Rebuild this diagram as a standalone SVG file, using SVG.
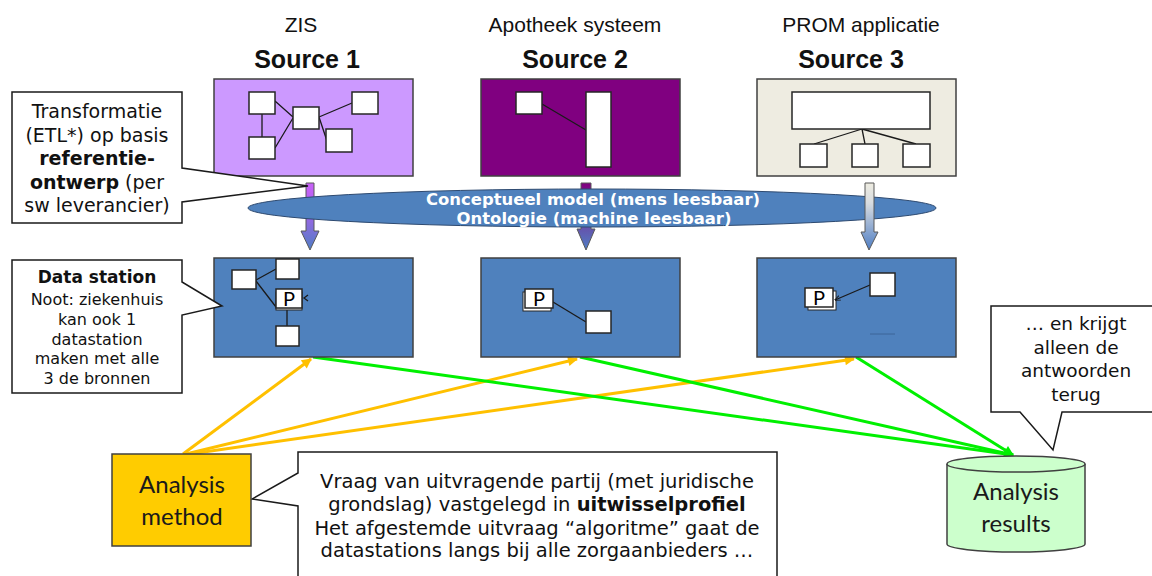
<svg xmlns="http://www.w3.org/2000/svg" width="1152" height="576" viewBox="0 0 1152 576">
  <defs>
    <style>
      .v { font-family: "DejaVu Sans", Verdana, sans-serif; }
      .vb { font-family: "DejaVu Sans", Verdana, sans-serif; font-weight: bold; }
      .ar { font-family: "Liberation Sans", Arial, sans-serif; }
      .cal { font-family: Lato, "Open Sans", sans-serif; }
      .box { stroke: #404040; stroke-width: 1.5; }
      .wb { fill: #ffffff; stroke: #262626; stroke-width: 1.5; }
      .ln { stroke: #1a1a1a; stroke-width: 1.3; fill: none; }
      .callout { fill: #ffffff; stroke: #1a1a1a; stroke-width: 1.5; }
      .yel { stroke: #FFC000; stroke-width: 3; fill: none; }
      .grn { stroke: #00F000; stroke-width: 3; fill: none; }
      .blk { stroke: #595959; stroke-width: 1; }
    </style>
    <marker id="ahY" viewBox="0 0 10 10" refX="9" refY="5" markerWidth="12" markerHeight="10" markerUnits="userSpaceOnUse" orient="auto">
      <path d="M0,0 L10,5 L0,10 Z" fill="#FFC000"/>
    </marker>
    <marker id="ahG" viewBox="0 0 10 10" refX="9" refY="5" markerWidth="12" markerHeight="10" markerUnits="userSpaceOnUse" orient="auto">
      <path d="M0,0 L10,5 L0,10 Z" fill="#00F000"/>
    </marker>
    <marker id="ahS" viewBox="0 0 10 10" refX="9" refY="5" markerWidth="6" markerHeight="6" markerUnits="userSpaceOnUse" orient="auto">
      <path d="M0,1 L10,5 L0,9" fill="none" stroke="#1a1a1a" stroke-width="1.5"/>
    </marker>
    <linearGradient id="g1" x1="0" y1="0" x2="0" y2="1">
      <stop offset="0" stop-color="#C862F8"/>
      <stop offset="0.35" stop-color="#B060EE"/>
      <stop offset="1" stop-color="#4F7EC4"/>
    </linearGradient>
    <linearGradient id="g2" x1="0" y1="0" x2="0" y2="1">
      <stop offset="0" stop-color="#800080"/>
      <stop offset="0.35" stop-color="#7a2a95"/>
      <stop offset="1" stop-color="#4F7EC4"/>
    </linearGradient>
    <linearGradient id="g3" x1="0" y1="0" x2="0" y2="1">
      <stop offset="0" stop-color="#EEECE1"/>
      <stop offset="0.3" stop-color="#D8DCE0"/>
      <stop offset="1" stop-color="#4F7EC4"/>
    </linearGradient>
  </defs>

  <rect width="1152" height="576" fill="#ffffff"/>

  <!-- column titles -->
  <g id="titles">
    <text class="ar" x="301" y="32" font-size="21" text-anchor="middle" fill="#111">ZIS</text>
    <text class="ar" x="575" y="32" font-size="21" text-anchor="middle" fill="#111">Apotheek systeem</text>
    <text class="ar" x="861" y="32" font-size="21" text-anchor="middle" fill="#111">PROM applicatie</text>
    <text class="ar" x="307" y="68" font-size="25" font-weight="bold" text-anchor="middle" fill="#111">Source 1</text>
    <text class="ar" x="575" y="68" font-size="25" font-weight="bold" text-anchor="middle" fill="#111">Source 2</text>
    <text class="ar" x="851" y="68" font-size="25" font-weight="bold" text-anchor="middle" fill="#111">Source 3</text>
  </g>

  <!-- source systems -->
  <g id="source1">
    <rect class="box" x="214" y="79" width="199" height="97" fill="#CC99FF"/>
    <path class="ln" d="M262,114 V137 M275,101 L293,117 M275,148 L293,118 M319,117 L352,103 M319,117 L327,141"/>
    <rect class="wb" x="249" y="92" width="26" height="22"/>
    <rect class="wb" x="293" y="107" width="26" height="22"/>
    <rect class="wb" x="352" y="92" width="26" height="22"/>
    <rect class="wb" x="249" y="137" width="26" height="22"/>
    <rect class="wb" x="326" y="129" width="26" height="23"/>
  </g>
  <g id="source2">
    <rect class="box" x="481" y="79" width="199" height="97" fill="#800080"/>
    <path class="ln" d="M542,104 L586,130"/>
    <rect class="wb" x="516" y="92" width="26" height="22"/>
    <rect class="wb" x="586" y="92" width="25" height="75"/>
  </g>
  <g id="source3">
    <rect class="box" x="757" y="79" width="199" height="97" fill="#EEECE1"/>
    <path class="ln" d="M862,129 L814,144 M862,129 L865,144 M862,129 L916,144"/>
    <rect class="wb" x="792" y="92" width="138" height="37"/>
    <rect class="wb" x="800" y="144" width="27" height="23"/>
    <rect class="wb" x="852" y="144" width="26" height="23"/>
    <rect class="wb" x="903" y="144" width="27" height="23"/>
  </g>

  <!-- transformation arrows and shared model -->
  <g id="transform-arrows-back">
    <path class="blk" d="M306,183 H314 V231 H319 L310,250 L301,231 H306 Z" fill="url(#g1)"/>
    <path class="blk" d="M581,183 H591 V229 H595 L586,250 L577,229 H581 Z" fill="url(#g2)"/>
  </g>
  <g id="model">
    <ellipse cx="592" cy="208" rx="344" ry="19" fill="#4F81BD" stroke="#2E4A70" stroke-width="1"/>
    <text class="vb" x="593" y="205" font-size="15" text-anchor="middle" fill="#ffffff" textLength="334" lengthAdjust="spacingAndGlyphs">Conceptueel model (mens leesbaar)</text>
    <text class="vb" x="594" y="224" font-size="15" text-anchor="middle" fill="#ffffff" textLength="275" lengthAdjust="spacingAndGlyphs">Ontologie (machine leesbaar)</text>
  </g>
  <g id="transform-arrow-front">
    <path class="blk" d="M865,183 H874 V232 H878 L869,250 L861,232 H865 Z" fill="url(#g3)"/>
  </g>

  <!-- connectors -->
  <g id="connectors">
    <line class="yel" x1="183" y1="454" x2="311" y2="359" marker-end="url(#ahY)"/>
    <line class="yel" x1="186" y1="454" x2="577" y2="359" marker-end="url(#ahY)"/>
    <line class="yel" x1="190" y1="454" x2="854" y2="359" marker-end="url(#ahY)"/>
    <line class="grn" x1="313" y1="357" x2="1013" y2="455" marker-end="url(#ahG)"/>
    <line class="grn" x1="580" y1="357" x2="1013" y2="455" marker-end="url(#ahG)"/>
    <line class="grn" x1="856" y1="357" x2="1013" y2="455" marker-end="url(#ahG)"/>
  </g>

  <!-- data stations -->
  <g id="datastation1">
    <rect class="box" x="214" y="258" width="199" height="99" fill="#4F81BD"/>
    <path class="ln" d="M256,280 L276,269 M256,281 L276,307 M287,308 V326 M308,295 L304,298 L308,301"/>
    <rect class="wb" x="232" y="270" width="24" height="19"/>
    <rect class="wb" x="276" y="259" width="23" height="20"/>
    <rect x="276" y="292" width="26" height="18" fill="#d9d9d9" stroke="#262626" stroke-width="1"/>
    <rect class="wb" x="276" y="289" width="26" height="19"/>
    <text class="cal" x="289" y="306" font-size="20" text-anchor="middle" fill="#000">P</text>
    <rect class="wb" x="276" y="326" width="23" height="20"/>
  </g>
  <g id="datastation2">
    <rect class="box" x="481" y="258" width="199" height="99" fill="#4F81BD"/>
    <path class="ln" d="M553,302 L586,322"/>
    <rect x="523" y="292" width="28" height="19" fill="#ffffff" stroke="#262626" stroke-width="1"/>
    <rect class="wb" x="525" y="289" width="28" height="19"/>
    <text class="cal" x="539" y="306" font-size="20" text-anchor="middle" fill="#000">P</text>
    <rect class="wb" x="586" y="311" width="25" height="22"/>
  </g>
  <g id="datastation3">
    <rect class="box" x="757" y="258" width="199" height="99" fill="#4F81BD"/>
    <line x1="870" y1="334" x2="895" y2="334" stroke="#3D6598" stroke-width="1"/>
    <rect x="808" y="291" width="28" height="19" fill="#ffffff" stroke="#262626" stroke-width="1"/>
    <rect class="wb" x="805" y="288" width="28" height="19"/>
    <text class="cal" x="819" y="305" font-size="20" text-anchor="middle" fill="#000">P</text>
    <line class="ln" x1="870" y1="285" x2="835" y2="300" marker-end="url(#ahS)"/>
    <rect class="wb" x="870" y="273" width="25" height="23"/>
  </g>

  <!-- callouts -->
  <g id="callout-transform">
    <path class="callout" d="M12,92 H182 V168 L308,186 L182,202 V223 H12 Z"/>
    <g class="v" font-size="19" text-anchor="middle" fill="#111">
      <text x="97" y="118">Transformatie</text>
      <text x="97" y="142">(ETL*) op basis</text>
      <text x="97" y="165" font-weight="bold">referentie-</text>
      <text x="97" y="189"><tspan font-weight="bold">ontwerp</tspan> (per</text>
      <text x="97" y="212">sw leverancier)</text>
    </g>
  </g>
  <g id="callout-datastation">
    <path class="callout" d="M12,260 H182 V282 L222,306 L182,315 V393 H12 Z"/>
    <g class="v" text-anchor="middle" fill="#111">
      <text x="97" y="283" font-size="17" font-weight="bold">Data station</text>
      <text x="97" y="305" font-size="16">Noot: ziekenhuis</text>
      <text x="97" y="325" font-size="16">kan ook 1</text>
      <text x="97" y="345" font-size="16">datastation</text>
      <text x="97" y="364" font-size="16">maken met alle</text>
      <text x="97" y="384" font-size="16">3 de bronnen</text>
    </g>
  </g>
  <g id="callout-results">
    <path class="callout" d="M991,306 H1160 V412 H1062 L1053,450 L1020,412 H991 Z"/>
    <g class="v" font-size="18.5" text-anchor="middle" fill="#111">
      <text x="1076" y="330">… en krijgt</text>
      <text x="1076" y="354">alleen de</text>
      <text x="1076" y="377">antwoorden</text>
      <text x="1076" y="401">terug</text>
    </g>
  </g>
  <g id="callout-query">
    <path class="callout" d="M298,452 H777 V584 H298 V506 L252,499 L298,473 Z"/>
    <g class="v" font-size="19.5" text-anchor="middle" fill="#111">
      <text x="537" y="488">Vraag van uitvragende partij (met juridische</text>
      <text x="537" y="511">grondslag) vastgelegd in <tspan font-weight="bold">uitwisselprofiel</tspan></text>
      <text x="537" y="535">Het afgestemde uitvraag “algoritme” gaat de</text>
      <text x="537" y="557">datastations langs bij alle zorgaanbieders …</text>
    </g>
  </g>

  <!-- analysis method -->
  <g id="analysis-method">
    <rect x="112" y="454" width="139" height="92" fill="#FFCC00" stroke="#404040" stroke-width="1.5"/>
    <text class="cal" x="182" y="493" font-size="24" text-anchor="middle" fill="#1a1a1a">Analysis</text>
    <text class="cal" x="182" y="525" font-size="24" text-anchor="middle" fill="#1a1a1a">method</text>
  </g>

  <!-- analysis results store -->
  <g id="analysis-results">
    <path d="M947,464 V544 A69,8 0 0 0 1085,544 V464" fill="#CCFFCC" stroke="#404040" stroke-width="1.5"/>
    <ellipse cx="1016" cy="464" rx="69" ry="8" fill="#CCFFCC" stroke="#404040" stroke-width="1.5"/>
    <text class="cal" x="1016" y="500" font-size="24" text-anchor="middle" fill="#1a1a1a">Analysis</text>
    <text class="cal" x="1016" y="532" font-size="24" text-anchor="middle" fill="#1a1a1a">results</text>
  </g>
</svg>
